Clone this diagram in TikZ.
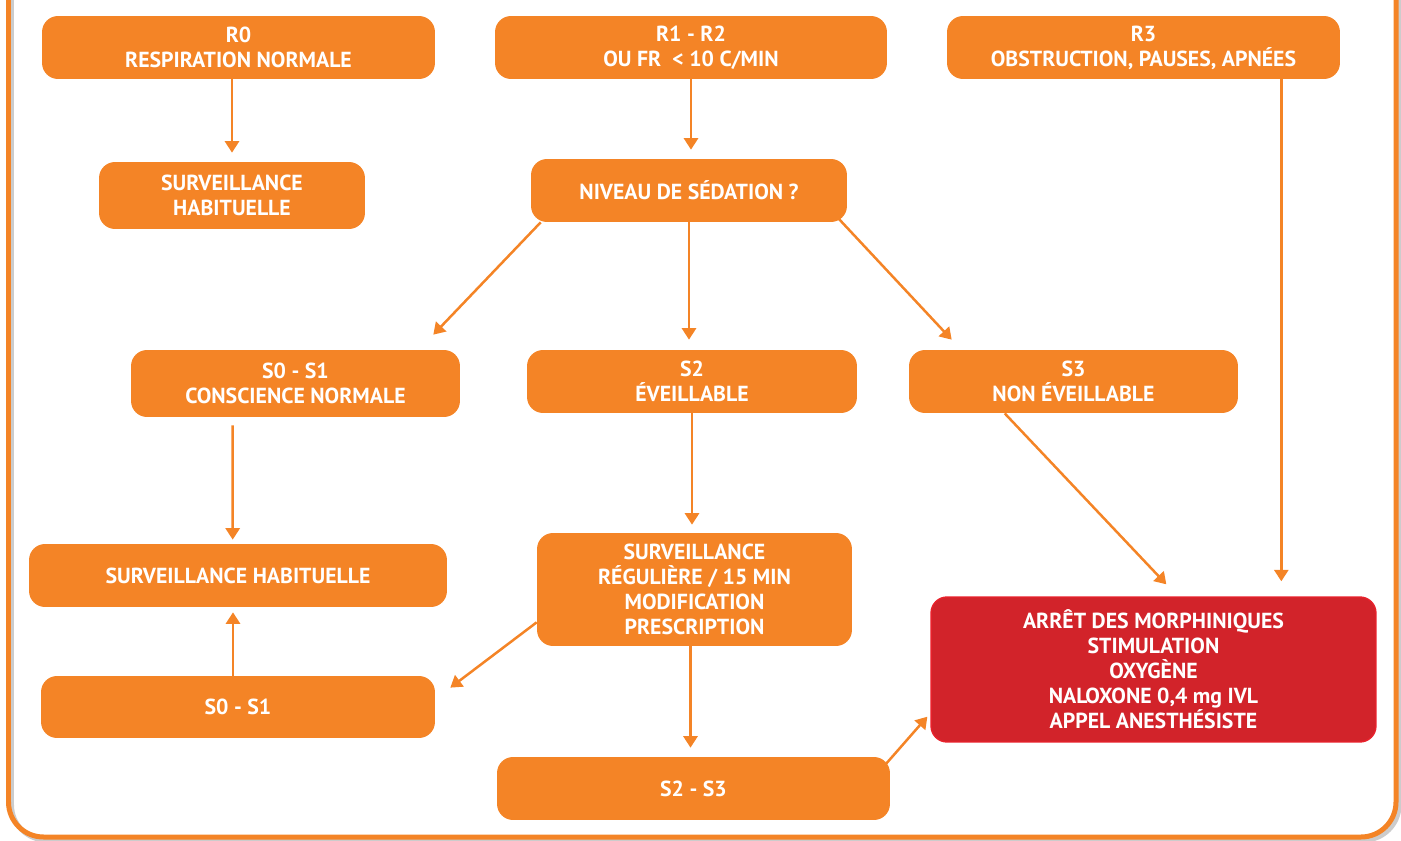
\documentclass[tikz,border=0pt]{standalone}
\usepackage{fontspec}
\setmainfont{PT Sans}
\usetikzlibrary{arrows.meta,positioning}
\definecolor{orangebox}{HTML}{F48426}
\definecolor{redbox}{HTML}{D2232A}
\definecolor{redline}{HTML}{E8212B}

\begin{document}
\begin{tikzpicture}[x=0.02cm,y=-0.02cm,
    box/.style={rectangle,rounded corners=0.32cm,fill=orangebox,text=white,
        font=\bfseries\fontsize{12.4}{14.2}\selectfont,align=center,
        inner sep=0pt,minimum height=1.26cm},
    alarm/.style={box,fill=redbox,draw=redline,line width=0.8pt},
    arr/.style={draw=orangebox,line width=0.05cm,-{Triangle[width=8pt,length=6.5pt]}},
    frame/.style={line width=0.1cm,rounded corners=0.7cm}]
    \useasboundingbox (0,0) rectangle (1401,841);
    \draw[frame,draw=black!20] (11.5,0) -- (11.5,840) -- (1399,840) -- (1399,0);
    \draw[frame,draw=orangebox] (8.5,0) -- (8.5,837) -- (1396,837) -- (1396,0);

    \node[box,minimum width=7.86cm] (r0) at (238.5,47.5) {R0\\RESPIRATION NORMALE};
    \node[box,minimum width=7.84cm] (r12) at (691,47.5) {R1 - R2\\OU FR\ \ < 10 C/MIN};
    \node[box,minimum width=7.86cm] (r3) at (1143.5,47.5) {R3\\OBSTRUCTION, PAUSES, APNÉES};
    \node[box,minimum width=5.32cm,minimum height=1.34cm] (surv1) at (232,195.5) {SURVEILLANCE\\HABITUELLE};
    \node[box,minimum width=6.32cm] (niv) at (689,190.5) {NIVEAU DE SÉDATION ?};
    \node[box,minimum width=6.58cm,minimum height=1.34cm] (s01) at (295.5,383.5) {S0 - S1\\CONSCIENCE NORMALE};
    \node[box,minimum width=6.6cm] (s2) at (692,381.5) {S2\\ÉVEILLABLE};
    \node[box,minimum width=6.58cm] (s3) at (1073.5,381.5) {S3\\NON ÉVEILLABLE};
    \node[box,minimum width=8.36cm] (surv2) at (238,575.5) {SURVEILLANCE HABITUELLE};
    \node[box,minimum width=6.3cm,minimum height=2.26cm] (reg) at (694.5,589.5)
        {SURVEILLANCE\\RÉGULIÈRE / 15 MIN\\MODIFICATION\\PRESCRIPTION};
    \node[alarm,minimum width=8.9cm,minimum height=2.9cm] (stop) at (1153.5,669.5)
        {ARRÊT DES MORPHINIQUES\\STIMULATION\\OXYGÈNE\\NALOXONE 0,4 mg IVL\\APPEL ANESTHÉSISTE};
    \node[box,minimum width=7.88cm,minimum height=1.24cm] (s01b) at (238,707) {S0 - S1};
    \node[box,minimum width=7.86cm] (s23) at (693.5,788.5) {S2 - S3};

    \draw[arr,shorten >=0.18cm] (surv1.north |- r0.south)
        -- (surv1.north);
    \draw[arr,shorten >=0.18cm] (r12.south)
        -- (r12.south |- niv.north);
    \draw[arr] ([shift={(10,0)}]niv.south west)
        -- ([shift={(-27,-15)}]s01.north east);
    \draw[arr,shorten >=0.2cm] (niv.south)
        -- (niv.south |- s2.north);
    \draw[arr] ([shift={(-9,-4)}]niv.south east)
        -- ([shift={(43,-10)}]s3.north west);
    \draw[arr] ([shift={(102,8)}]s01.south west)
        -- ([shift={(204,-4)}]surv2.north west);
    \draw[arr,shorten >=0.16cm] (s2.south)
        -- (s2.south |- reg.north);
    \draw[arr] ([shift={(96,0)}]s3.south west)
        -- ([shift={(236,-12)}]stop.north west);
    \draw[arr] ([shift={(-59,0)}]r3.south east)
        -- ([shift={(-59,-15)}]r3.south east |- stop.north);
    \draw[arr] ([shift={(0,-24)}]reg.south west)
        -- ([shift={(15,12)}]s01b.north east);
    \draw[arr,shorten >=0.18cm] ([shift={(-4,0)}]reg.south)
        -- ([shift={(-4,0)}]reg.south |- s23.north);
    \draw[arr,shorten >=0.1cm] ([shift={(-5,0)}]s01b.north)
        -- ([shift={(-5,0)}]s01b.north |- surv2.south);
    \draw[arr] ([shift={(-5,8)}]s23.north east)
        -- ([shift={(-3,-26)}]stop.south west);
\end{tikzpicture}
\end{document}
